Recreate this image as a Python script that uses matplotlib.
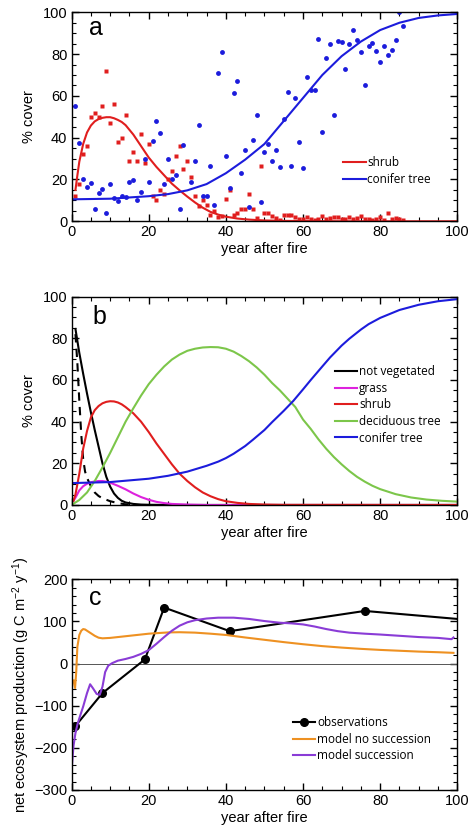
import numpy as np
import matplotlib
matplotlib.use('Agg')
import matplotlib.pyplot as plt
from matplotlib.ticker import MultipleLocator

plt.rcParams['font.family'] = ['Liberation Sans', 'DejaVu Sans']
plt.rcParams['mathtext.fontset'] = 'custom'
plt.rcParams['mathtext.rm'] = 'Liberation Sans'
plt.rcParams['mathtext.it'] = 'Liberation Sans:italic'

# ---------- panel a: observed cover ----------
shrub_obs_year = list(range(1, 87))
shrub_obs = [12, 18, 32, 36, 50, 52, 50, 55, 72, 47, 56, 38, 40, 51, 29, 33, 29, 42, 28, 37,
             12, 10, 15, 13, 20, 24, 31, 36, 25, 29, 21, 12, 7.5, 10, 8, 3, 5, 2, 2.5, 10.5,
             15, 3, 4, 6, 6, 13, 6, 1.5, 26.5, 4, 4, 2.5, 1.5, 0.6, 3, 3, 3, 2, 1, 1,
             2, 1, 0.5, 1, 2.5, 1, 1.5, 2, 2, 1, 1, 2, 1, 1.5, 2.5, 1, 1, 0.5, 1, 2,
             0.5, 4, 1, 1.5, 1, 0.5]
conifer_obs_year = [1, 2, 3, 4, 5, 6, 7, 8, 9, 10, 11, 12, 13, 14, 15, 16, 17, 18, 19, 20,
                    21, 22, 23, 24, 25, 26, 27, 28, 29, 31, 32, 33, 34, 35, 36, 37, 38, 39, 40, 41,
                    42, 43, 44, 45, 46, 47, 48, 49, 50, 51, 52, 53, 54, 55, 56, 57, 58, 59, 60, 61,
                    62, 63, 64, 65, 66, 67, 68, 69, 70, 71, 72, 73, 74, 75, 76, 77, 78, 79, 80, 81,
                    82, 83, 84, 85, 86]
conifer_obs = [55, 37.5, 20, 16.5, 18.5, 5.7, 13.7, 15.6, 3.8, 18, 11.3, 9.7, 12, 11.8, 18.7, 19.8, 10, 14, 30, 18.7,
               38.4, 48, 42.4, 17.7, 30, 20, 22, 5.7, 36.5, 19, 29, 46, 12, 12, 26.5, 8, 71, 81, 31, 16,
               61.5, 67, 23, 34, 7, 39, 51, 9, 33, 37, 29, 34, 26, 49, 62, 26.6, 59, 38, 25.4, 69,
               63, 63, 87, 42.6, 78, 85, 51, 86.4, 86, 72.7, 85, 91.5, 86.8, 81, 65, 84, 85.5, 81.5, 76, 84,
               79.6, 82, 86.8, 100, 93.6]

shrub_fit_year = [1, 1.5, 2, 3, 4, 5, 6, 7, 8, 9, 10, 11, 12, 13, 14, 16, 18, 20, 22, 24,
                  26, 28, 30, 32, 34, 36, 38, 40, 43, 46, 50, 55, 60, 70, 100]
shrub_fit = [15, 22, 28.5, 37, 42.5, 45.8, 47.8, 48.9, 49.5, 49.8, 49.8, 49.3, 48.5, 47.5, 46, 41.5, 36, 30.5, 26, 22,
             18, 14.8, 11.8, 9, 6.5, 4.5, 3.2, 2.2, 1.3, 0.8, 0.4, 0.2, 0.1, 0, 0]
conifer_fit_year = [0, 10, 20, 25, 30, 35, 40, 45, 50, 55, 60, 65, 70, 75, 80, 85, 90, 95, 100]
conifer_fit = [10.5, 10.8, 12, 13, 14.8, 17.8, 23, 29.5, 37, 48, 59, 70, 79, 86, 91.5, 95, 97.3, 98.5, 99.2]

# ---------- panel b: modelled cover ----------
bare_year = [1, 2, 3, 4, 5, 6, 7, 8, 9, 10, 11, 12, 13, 14, 16, 18, 20, 25, 100]
bare = [84.5, 73, 63, 53.5, 44.5, 36, 28, 20, 13.5, 8.8, 5.5, 3.4, 2, 1.2, 0.5, 0.2, 0.1, 0, 0]
bare_alt_year = [1, 1.5, 2, 2.5, 3, 3.5, 4, 5, 6, 7, 8, 10, 12, 14, 16]
bare_alt = [82, 68, 50, 34, 22, 16, 13, 9, 6, 4.3, 3.2, 1.8, 0.9, 0.3, 0]
grass_year = [0.5, 1, 2, 3, 4, 5, 6, 7, 8, 9, 10, 12, 14, 16, 18, 20, 22, 24, 26, 30, 35, 100]
grass = [2, 3.5, 7, 9, 10.2, 10.9, 11.3, 11.5, 11.5, 11.2, 10.7, 9.2, 7.5, 5.5, 3.8, 2.5, 1.5, 0.9, 0.5, 0.2, 0, 0]
shrub_year = [0.5, 1, 2, 3, 4, 5, 6, 7, 8, 9, 10, 11, 12, 13, 14, 16, 18, 20, 22, 24,
              26, 28, 30, 32, 34, 36, 38, 40, 43, 46, 50, 55, 100]
shrub = [2, 5, 15, 27, 35.5, 42, 45.5, 47.5, 48.8, 49.5, 49.8, 49.7, 49.2, 48.3, 47, 44, 40, 35, 29.5, 24.5,
         19.5, 15, 11.5, 8.5, 6, 4.2, 2.8, 1.8, 1, 0.5, 0.2, 0.05, 0]
decid_year = [0, 2, 4, 6, 8, 10, 12, 14, 16, 18, 20, 22, 24, 26, 28, 30, 32, 34, 36, 38,
              40, 42, 44, 46, 48, 50, 52, 54, 56, 58, 60, 62, 64, 66, 68, 70, 72, 74, 76, 78,
              80, 84, 88, 92, 96, 100]
decid = [0, 2.4, 6, 11.5, 18, 25, 32.5, 40, 46.4, 52.5, 58, 62.5, 66.5, 69.8, 72.2, 74, 75, 75.6, 75.8, 75.7,
         75, 73.6, 71.5, 69, 66, 62.5, 58.5, 55, 51, 47, 41, 36.5, 31.5, 27, 23, 19.5, 16.3, 13.5, 11.2, 9.2,
         7.6, 5.2, 3.6, 2.6, 2, 1.6]
conifer_year = [0, 10, 20, 25, 30, 35, 38, 40, 42, 45, 47, 50, 52, 55, 57.5, 60, 62, 65, 67, 70,
                72, 75, 77, 80, 85, 90, 95, 100]
conifer = [10.5, 11, 12.6, 14, 16, 18.8, 20.8, 22.5, 24.6, 28.3, 31.3, 36, 39.8, 45.2, 50, 55.5, 60, 66.5, 70.8, 76.5,
           79.8, 84.2, 86.8, 89.8, 93.6, 96.1, 97.8, 98.8]

# ---------- panel c: NEP ----------
obs_year = [1, 8, 19, 24, 41, 76, 100]
obs_nep = [-148, -70, 10, 133, 77, 125, 106]
nosucc_year = [0.5, 0.9, 1.2, 1.5, 2, 2.5, 3, 3.5, 4, 5, 6, 7, 8, 10, 12, 15, 20, 25, 28, 32,
               36, 40, 45, 50, 55, 60, 65, 70, 75, 80, 85, 90, 95, 99]
nosucc_nep = [-40, -58, -20, 40, 68, 78, 82, 81, 78, 72, 66, 61.5, 60, 61, 63, 66, 71, 74, 74.5, 73.5,
              71, 68, 62, 56.5, 51, 46, 41.5, 38, 35, 32.5, 30.5, 28.5, 27, 25.5]
succ_year = [0, 0.5, 1, 1.5, 2, 3, 4, 4.8, 5.5, 6.5, 7.3, 8, 8.7, 9.5, 10.5, 12, 14, 16, 18, 20,
             22, 24, 26, 28, 30, 32, 35, 38, 42, 46, 50, 54, 57, 60, 63, 66, 69, 72, 76, 80,
             85, 90, 95, 98.5, 99]
succ_nep = [-253, -195, -165, -145, -130, -102, -70, -49, -58, -72, -74, -55, -20, -5, 1, 7, 11, 16, 23, 32,
            47, 63, 78, 90, 98, 103, 107, 109, 109, 106, 101, 97, 95.5, 93, 88, 82, 77, 73.5, 71, 69,
            66, 63, 61, 58, 62]

RED = '#e01e1e'
BLUE = '#1c1cdc'
GREEN = '#7cc64a'
MAGENTA = '#dd22dd'
ORANGE = '#ee9122'
PURPLE = '#8a3cd6'

fig = plt.figure(figsize=(4.71, 8.30), dpi=100)
L, W = 0.152, 0.819
ax_a = fig.add_axes([L, 0.7334, W, 0.2518])
ax_b = fig.add_axes([L, 0.3916, W, 0.2510])
ax_c = fig.add_axes([L, 0.0482, W, 0.2538])


def style(ax, ymin, ymax, ymaj, ymin_step):
    ax.set_xlim(0, 100)
    ax.set_ylim(ymin, ymax)
    ax.xaxis.set_major_locator(MultipleLocator(20))
    ax.xaxis.set_minor_locator(MultipleLocator(5))
    ax.yaxis.set_major_locator(MultipleLocator(ymaj))
    ax.yaxis.set_minor_locator(MultipleLocator(ymin_step))
    ax.tick_params(which='both', direction='in', top=True, right=True, labelsize=10.5, pad=3)
    ax.tick_params(which='major', length=5, width=1)
    ax.tick_params(which='minor', length=3, width=0.8)
    for s in ax.spines.values():
        s.set_linewidth(1)
    ax.set_xlabel('year after fire', fontsize=10.5, labelpad=2)


leg_kw = dict(frameon=False, handlelength=1.9, handletextpad=0.15, borderpad=0, borderaxespad=0,
              labelspacing=0.3, prop={'family': 'Open Sans', 'size': 8.5})

# panel a
ax_a.plot(shrub_obs_year, shrub_obs, 's', color=RED, ms=3, mec='none')
ax_a.plot(conifer_obs_year, conifer_obs, 'o', color=BLUE, ms=3.5, mec='none')
ax_a.plot(shrub_fit_year, shrub_fit, color=RED, lw=1.5, label='shrub')
ax_a.plot(conifer_fit_year, conifer_fit, color=BLUE, lw=1.5, label='conifer tree')
style(ax_a, 0, 100, 20, 5)
ax_a.set_ylabel('% cover', fontsize=10.5, labelpad=5)
ax_a.text(0.063, 0.926, 'a', transform=ax_a.transAxes, fontsize=18, ha='center', va='center')
ax_a.legend(loc='upper left', bbox_to_anchor=(0.704, 0.31), **leg_kw)

# panel b
ax_b.plot(bare_year, bare, color='black', lw=1.5, label='not vegetated')
ax_b.plot(bare_alt_year, bare_alt, color='black', lw=1.5, ls=(0, (4, 3)))
ax_b.plot(grass_year, grass, color=MAGENTA, lw=1.5, label='grass')
ax_b.plot(shrub_year, shrub, color=RED, lw=1.5, label='shrub')
ax_b.plot(decid_year, decid, color=GREEN, lw=1.5, label='deciduous tree')
ax_b.plot(conifer_year, conifer, color=BLUE, lw=1.5, label='conifer tree')
style(ax_b, 0, 100, 20, 5)
ax_b.set_ylabel('% cover', fontsize=10.5, labelpad=5)
ax_b.text(0.073, 0.904, 'b', transform=ax_b.transAxes, fontsize=18, ha='center', va='center')
ax_b.legend(loc='upper left', bbox_to_anchor=(0.683, 0.67), **leg_kw)

# panel c
ax_c.axhline(0, color='#555555', lw=0.7)
ax_c.plot(obs_year, obs_nep, '-o', color='black', lw=1.5, ms=5.5, markevery=list(range(6)),
          label='observations')
ax_c.plot(nosucc_year, nosucc_nep, color=ORANGE, lw=1.5, label='model no succession')
ax_c.plot(succ_year, succ_nep, color=PURPLE, lw=1.5, label='model succession')
style(ax_c, -300, 200, 100, 20)
ax_c.set_ylabel('net ecosystem production (g C m$^{-2}$ y$^{-1}$)', fontsize=10.5, labelpad=2)
ax_c.text(0.062, 0.91, 'c', transform=ax_c.transAxes, fontsize=18, ha='center', va='center')
ax_c.legend(loc='upper left', bbox_to_anchor=(0.574, 0.35), **leg_kw)

fig.savefig('out.png', dpi=100)
